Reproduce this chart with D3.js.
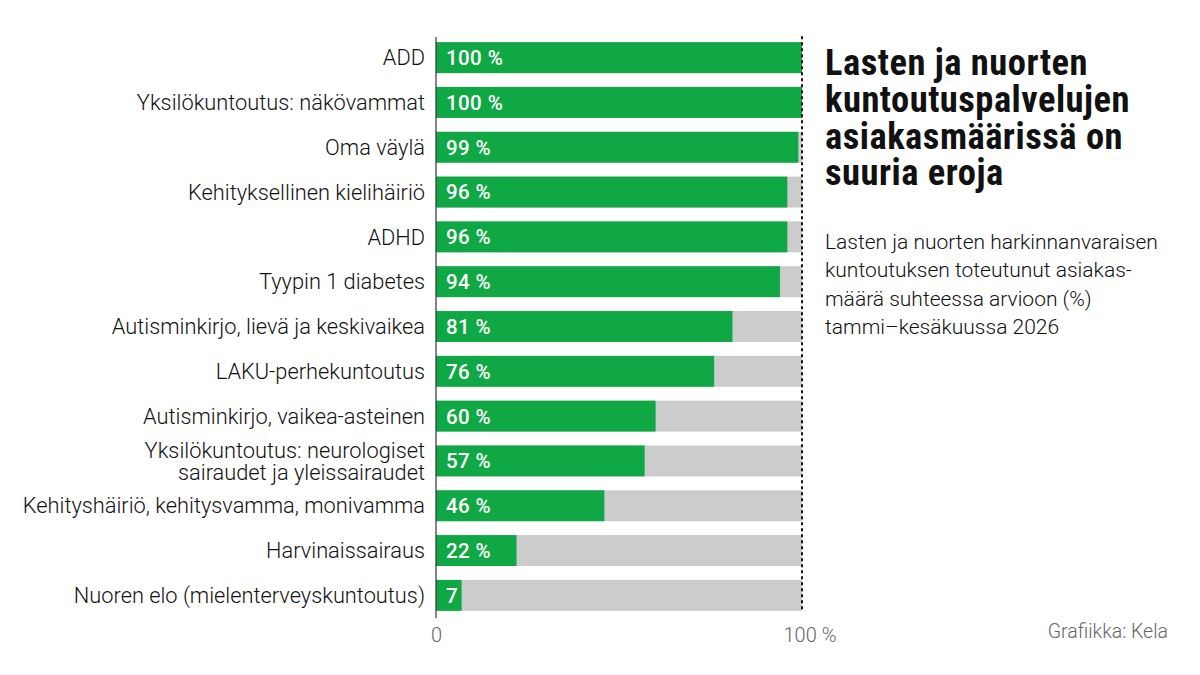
<!DOCTYPE html>
<html><head><meta charset="utf-8">
<script src="https://cdn.jsdelivr.net/npm/d3@7"></script>
<style>
body{margin:0;background:#fff;}
svg{display:block;}
</style></head>
<body>
<svg id="c" width="1200" height="675"></svg>
<script>
const categories = [
  "ADD",
  "Yksilökuntoutus: näkövammat",
  "Oma väylä",
  "Kehityksellinen kielihäiriö",
  "ADHD",
  "Tyypin 1 diabetes",
  "Autisminkirjo, lievä ja keskivaikea",
  "LAKU-perhekuntoutus",
  "Autisminkirjo, vaikea-asteinen",
  "Yksilökuntoutus: neurologiset|sairaudet ja yleissairaudet",
  "Kehityshäiriö, kehitysvamma, monivamma",
  "Harvinaissairaus",
  "Nuoren elo (mielenterveyskuntoutus)"
];
const values = [100, 100, 99, 96, 96, 94, 81, 76, 60, 57, 46, 22, 7];
const valueLabels = ["100 %", "100 %", "99 %", "96 %", "96 %", "94 %", "81 %", "76 %", "60 %", "57 %", "46 %", "22 %", "7"];
const tickValues = [0, 100];
const tickLabels = ["0", "100 %"];
const titleLines = ["Lasten ja nuorten", "kuntoutuspalvelujen", "asiakasmäärissä on", "suuria eroja"];
const subtitleLines = ["Lasten ja nuorten harkinnanvaraisen", "kuntoutuksen toteutunut asiakas-", "määrä suhteessa arvioon (%)", "tammi–kesäkuussa 2026"];
const source = "Grafiikka: Kela";

const svg = d3.select("#c");
const green = "#0fa844", grey = "#cccccc";
const font = "Roboto, 'Noto Sans', sans-serif";

const x = d3.scaleLinear().domain([0, 100]).range([436, 802]);
const y = d3.scaleBand().domain(categories).range([35, 618]).paddingInner(0.31).paddingOuter(0.16);

const g = svg.append("g");
g.selectAll("rect.bg").data(categories).join("rect")
  .attr("x", x(0)).attr("width", x(100) - x(0))
  .attr("y", d => y(d)).attr("height", y.bandwidth())
  .attr("fill", grey);
g.selectAll("rect.v").data(values).join("rect")
  .attr("x", x(0)).attr("width", d => x(d) - x(0))
  .attr("y", (d, i) => y(categories[i])).attr("height", y.bandwidth())
  .attr("fill", green);
g.selectAll("text.v").data(valueLabels).join("text")
  .attr("x", x(0) + 10)
  .attr("y", (d, i) => y(categories[i]) + y.bandwidth() / 2)
  .attr("dy", "0.36em")
  .attr("fill", "#fff").attr("font-family", font).attr("font-weight", 500)
  .attr("font-size", 20.5).attr("letter-spacing", 0.4).text(d => d);

const cl = g.selectAll("text.c").data(categories).join("text")
  .attr("text-anchor", "end").attr("x", 425)
  .attr("font-family", font).attr("font-weight", 300).attr("font-size", 21.8).attr("fill", "#111");
cl.each(function(d) {
  const parts = d.split("|");
  const yc = y(d) + y.bandwidth() / 2;
  const t = d3.select(this);
  parts.forEach((p, k) => {
    t.append("tspan").attr("x", 425)
      .attr("y", yc + (k - (parts.length - 1) / 2) * 22)
      .attr("dy", "0.35em").text(p);
  });
});

g.append("line").attr("x1", x(100)).attr("x2", x(100)).attr("y1", 37).attr("y2", 613)
  .attr("stroke", "#111").attr("stroke-width", 2).attr("stroke-dasharray", "1.5,4.5").attr("stroke-linecap", "round");
g.append("line").attr("x1", x(0)).attr("x2", x(0)).attr("y1", 37).attr("y2", 618)
  .attr("stroke", "#333").attr("stroke-width", 1.2);

const axis = d3.axisBottom(x).tickValues(tickValues).tickSize(0).tickFormat((d, i) => tickLabels[i]);
const ax = svg.append("g").attr("transform", "translate(0,621)").call(axis);
ax.select(".domain").remove();
ax.selectAll("text").attr("font-family", font).attr("font-weight", 300).attr("font-size", 20).attr("fill", "#666").attr("dy", "0.9em");
ax.selectAll(".tick").filter(d => d === 100).select("text").attr("text-anchor", "start").attr("x", -19);

svg.append("text").attr("x", 825).attr("font-family", "'Roboto Condensed', 'Liberation Sans Narrow', Roboto, sans-serif")
  .attr("font-weight", 700).attr("font-size", 36.5).attr("letter-spacing", 0.5).attr("fill", "#111")
  .selectAll("tspan").data(titleLines).join("tspan")
  .attr("x", 825).attr("y", (d, i) => 75 + i * 36.8).text(d => d);
svg.append("text").attr("font-family", font).attr("font-weight", 300).attr("font-size", 21).attr("fill", "#111")
  .selectAll("tspan").data(subtitleLines).join("tspan")
  .attr("x", 825).attr("y", (d, i) => 249 + i * 28.3).text(d => d);
svg.append("text").attr("x", 1168).attr("y", 638).attr("text-anchor", "end")
  .attr("font-family", font).attr("font-weight", 300).attr("font-size", 19.5).attr("fill", "#666").text(source);
</script>
</body></html>
